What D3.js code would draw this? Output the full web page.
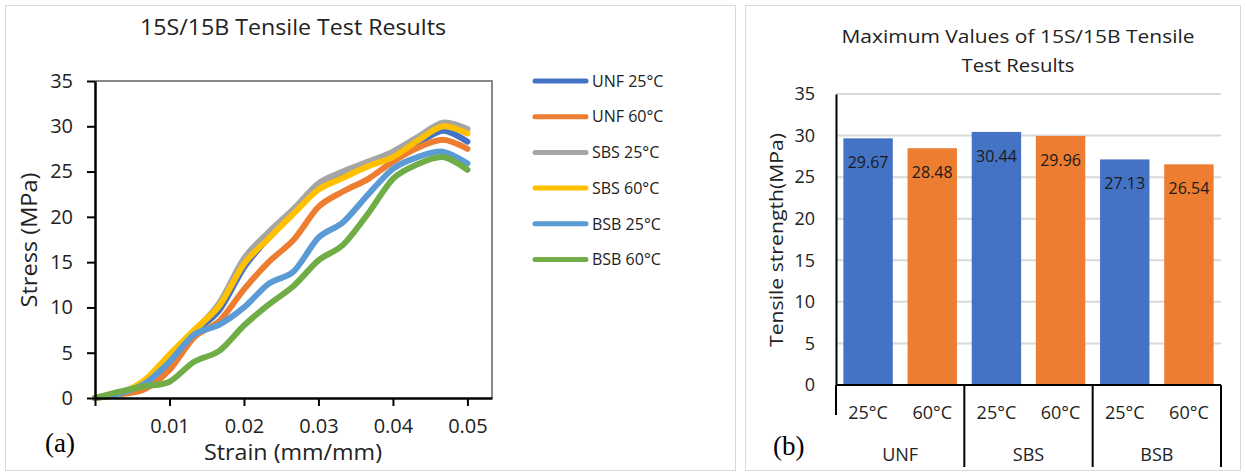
<!DOCTYPE html>
<html>
<head>
<meta charset="utf-8">
<script src="https://cdn.jsdelivr.net/npm/d3@7"></script>
<style>
  body { margin: 0; background: #fff; }
  svg { display: block; font-family: "Open Sans", sans-serif; }
</style>
</head>
<body>
<svg id="fig" width="1246" height="473"></svg>
<script>
// ---- (a) stress-strain curves ----
var strain = [0, 0.0033, 0.0067, 0.01, 0.0133, 0.0167, 0.02, 0.0233, 0.0267, 0.03, 0.0333, 0.0367, 0.04, 0.0433, 0.0467, 0.05];
var unf25 = [0, 0.5, 1.6, 4.0, 7.2, 9.7, 14.4, 17.7, 20.7, 23.3, 24.6, 25.8, 26.8, 28.1, 29.5, 28.3];
var unf60 = [0, 0.4, 1.0, 3.1, 6.7, 8.5, 12.0, 15.0, 17.5, 21.1, 22.8, 24.2, 26.1, 27.6, 28.5, 27.5];
var sbs25 = [0, 0.5, 1.8, 4.3, 7.3, 10.5, 15.4, 18.3, 20.9, 23.7, 25.0, 26.1, 27.2, 28.8, 30.4, 29.7];
var sbs60 = [0, 0.5, 2.0, 4.8, 7.5, 10.2, 14.8, 17.6, 20.4, 23.0, 24.3, 25.6, 26.6, 28.4, 30.0, 29.2];
var bsb25 = [0, 0.5, 1.6, 4.0, 7.0, 8.1, 10.0, 12.6, 14.0, 17.7, 19.4, 22.5, 25.3, 26.6, 27.2, 25.9];
var bsb60 = [0, 0.7, 1.3, 1.8, 4.0, 5.2, 8.0, 10.3, 12.4, 15.2, 16.9, 20.4, 24.2, 25.8, 26.6, 25.2];
var seriesNames = ["UNF 25°C", "UNF 60°C", "SBS 25°C", "SBS 60°C", "BSB 25°C", "BSB 60°C"];
var stressTicks = [0, 5, 10, 15, 20, 25, 30, 35];
var strainTicks = [0, 0.01, 0.02, 0.03, 0.04, 0.05];

// ---- (b) maximum values ----
var groups = ["UNF", "SBS", "BSB"];
var temps = ["25°C", "60°C"];
var max25 = [29.67, 30.44, 27.13];
var max60 = [28.48, 29.96, 26.54];
var strengthTicks = [0, 5, 10, 15, 20, 25, 30, 35];

var lineColors = ["#4472C4", "#ED7D31", "#A5A5A5", "#FFC000", "#5B9BD5", "#70AD47"];
var barColors = ["#4472C4", "#ED7D31"];

var svg = d3.select("#fig");

// panel frames
svg.append("rect").attr("x", 5.5).attr("y", 5.5).attr("width", 730).attr("height", 465)
    .attr("fill", "none").attr("stroke", "#d9d9d9");
svg.append("rect").attr("x", 745.5).attr("y", 5.5).attr("width", 495).attr("height", 465)
    .attr("fill", "none").attr("stroke", "#d9d9d9");

// ================= chart (a) =================
var ga = svg.append("g");
var x = d3.scaleLinear().domain([0, 0.0533]).range([95, 492]);
var y = d3.scaleLinear().domain([0, 35]).range([398, 81]);

ga.append("text").attr("x", 293).attr("y", 35).attr("text-anchor", "middle")
    .attr("font-size", 21).attr("fill", "#222")
    .attr("textLength", 306).attr("lengthAdjust", "spacingAndGlyphs")
    .text("15S/15B Tensile Test Results");

// top / right frame of plot area
ga.append("path")
    .attr("d", "M" + x.range()[0] + "," + y(35) + "H" + x.range()[1] + "V" + y(0))
    .attr("fill", "none").attr("stroke", "#898989").attr("stroke-width", 2);

var series = [unf25, unf60, sbs25, sbs60, bsb25, bsb60];
var line = d3.line()
    .x(function(d, i) { return x(strain[i]); })
    .y(function(d) { return y(d); })
    .curve(d3.curveCardinal.tension(0.1));

ga.selectAll(".curve")
    .data(series)
    .enter().append("path")
    .attr("class", "curve")
    .attr("d", line)
    .attr("fill", "none")
    .attr("stroke", function(d, i) { return lineColors[i]; })
    .attr("stroke-width", 6)
    .attr("stroke-linejoin", "round")
    .attr("stroke-linecap", "round");

var yAxisA = ga.append("g")
    .attr("transform", "translate(95,0)")
    .call(d3.axisLeft(y).tickValues(stressTicks).tickSize(8).tickSizeOuter(0).tickPadding(14));

var xAxisA = ga.append("g")
    .attr("transform", "translate(0,398)")
    .call(d3.axisBottom(x).tickValues(strainTicks).tickSize(8).tickSizeOuter(0).tickPadding(13)
        .tickFormat(function(d) { return d === 0 ? "" : d3.format(".2f")(d); }));

[yAxisA, xAxisA].forEach(function(ax) {
    ax.select(".domain").attr("stroke", "#000").attr("stroke-width", 2.5);
    ax.selectAll(".tick line").attr("stroke", "#000").attr("stroke-width", 2);
    ax.selectAll(".tick text").attr("font-size", 20).attr("fill", "#222")
        .attr("font-family", "Open Sans, sans-serif");
});

ga.append("text")
    .attr("transform", "translate(37,240) rotate(-90)")
    .attr("text-anchor", "middle").attr("font-size", 22).attr("fill", "#222")
    .attr("textLength", 135).attr("lengthAdjust", "spacingAndGlyphs")
    .text("Stress (MPa)");

ga.append("text").attr("x", 293).attr("y", 460).attr("text-anchor", "middle")
    .attr("font-size", 21).attr("fill", "#222")
    .attr("textLength", 178).attr("lengthAdjust", "spacingAndGlyphs")
    .text("Strain (mm/mm)");

ga.append("text").attr("x", 45).attr("y", 452)
    .attr("font-family", "Liberation Serif, serif").attr("font-size", 27).attr("fill", "#000")
    .text("(a)");

// legend
var legend = ga.selectAll(".leg")
    .data(seriesNames)
    .enter().append("g")
    .attr("class", "leg")
    .attr("transform", function(d, i) { return "translate(0," + (81 + i * 35.7) + ")"; });
legend.append("line")
    .attr("x1", 535).attr("x2", 586)
    .attr("stroke", function(d, i) { return lineColors[i]; })
    .attr("stroke-width", 5).attr("stroke-linecap", "round");
legend.append("text")
    .attr("x", 592).attr("dy", "0.36em")
    .attr("font-size", 16).attr("fill", "#222")
    .text(function(d) { return d; });

// ================= chart (b) =================
var gb = svg.append("g");
var yb = d3.scaleLinear().domain([0, 35]).range([385, 94]);
var xg = d3.scaleBand().domain(groups).range([836, 1221]).padding(0);
var xt = d3.scaleBand().domain(temps).range([0, xg.bandwidth()]).paddingInner(0.23).paddingOuter(0.115);

gb.append("text").attr("x", 1018).attr("y", 43).attr("text-anchor", "middle")
    .attr("font-size", 19).attr("fill", "#222")
    .attr("textLength", 353).attr("lengthAdjust", "spacingAndGlyphs")
    .text("Maximum Values of 15S/15B Tensile");
gb.append("text").attr("x", 1018).attr("y", 72).attr("text-anchor", "middle")
    .attr("font-size", 19).attr("fill", "#222")
    .attr("textLength", 113).attr("lengthAdjust", "spacingAndGlyphs")
    .text("Test Results");

// gridlines
gb.selectAll(".grid")
    .data(strengthTicks.filter(function(d) { return d > 0; }))
    .enter().append("line")
    .attr("class", "grid")
    .attr("x1", 836).attr("x2", 1221)
    .attr("y1", function(d) { return yb(d); }).attr("y2", function(d) { return yb(d); })
    .attr("stroke", "#d9d9d9").attr("stroke-width", 2);

var yAxisB = gb.append("g")
    .attr("transform", "translate(836,0)")
    .call(d3.axisLeft(yb).tickValues(strengthTicks).tickSize(0).tickPadding(21));
yAxisB.select(".domain").attr("stroke", "#000").attr("stroke-width", 2);
yAxisB.selectAll(".tick text").attr("font-size", 18).attr("fill", "#222")
    .attr("font-family", "Open Sans, sans-serif");

var barRows = [];
groups.forEach(function(g, i) {
    barRows.push({ group: g, temp: temps[0], value: max25[i], k: 0 });
    barRows.push({ group: g, temp: temps[1], value: max60[i], k: 1 });
});

var bars = gb.selectAll(".bar")
    .data(barRows)
    .enter().append("g")
    .attr("class", "bar")
    .attr("transform", function(d) { return "translate(" + (xg(d.group) + xt(d.temp)) + ",0)"; });
bars.append("rect")
    .attr("y", function(d) { return yb(d.value); })
    .attr("width", xt.bandwidth())
    .attr("height", function(d) { return yb(0) - yb(d.value); })
    .attr("fill", function(d) { return barColors[d.k]; });
bars.append("text")
    .attr("x", xt.bandwidth() / 2)
    .attr("y", function(d) { return yb(d.value) + 30; })
    .attr("text-anchor", "middle").attr("font-size", 16).attr("fill", "#1a1a1a")
    .text(function(d) { return d3.format(".2f")(d.value); });
bars.append("text")
    .attr("x", xt.bandwidth() / 2).attr("y", 419)
    .attr("text-anchor", "middle").attr("font-size", 18).attr("fill", "#222")
    .text(function(d) { return d.temp; });

// category axis with group separators
gb.append("line").attr("x1", 836).attr("x2", 1221).attr("y1", 385).attr("y2", 385)
    .attr("stroke", "#000").attr("stroke-width", 2);
gb.append("line").attr("x1", 836).attr("x2", 836).attr("y1", 385).attr("y2", 415)
    .attr("stroke", "#000").attr("stroke-width", 2);
gb.selectAll(".sep")
    .data(groups)
    .enter().append("line")
    .attr("class", "sep")
    .attr("x1", function(d) { return xg(d) + xg.bandwidth(); })
    .attr("x2", function(d) { return xg(d) + xg.bandwidth(); })
    .attr("y1", 385).attr("y2", 467)
    .attr("stroke", "#000").attr("stroke-width", 2);
gb.selectAll(".grp")
    .data(groups)
    .enter().append("text")
    .attr("class", "grp")
    .attr("x", function(d) { return xg(d) + xg.bandwidth() / 2; })
    .attr("y", 461)
    .attr("text-anchor", "middle").attr("font-size", 18).attr("fill", "#222")
    .text(function(d) { return d; });

gb.append("text")
    .attr("transform", "translate(783,240) rotate(-90)")
    .attr("text-anchor", "middle").attr("font-size", 18).attr("fill", "#222")
    .attr("textLength", 214).attr("lengthAdjust", "spacingAndGlyphs")
    .text("Tensile strength(MPa)");

gb.append("text").attr("x", 773).attr("y", 455)
    .attr("font-family", "Liberation Serif, serif").attr("font-size", 27).attr("fill", "#000")
    .text("(b)");
</script>
</body>
</html>
